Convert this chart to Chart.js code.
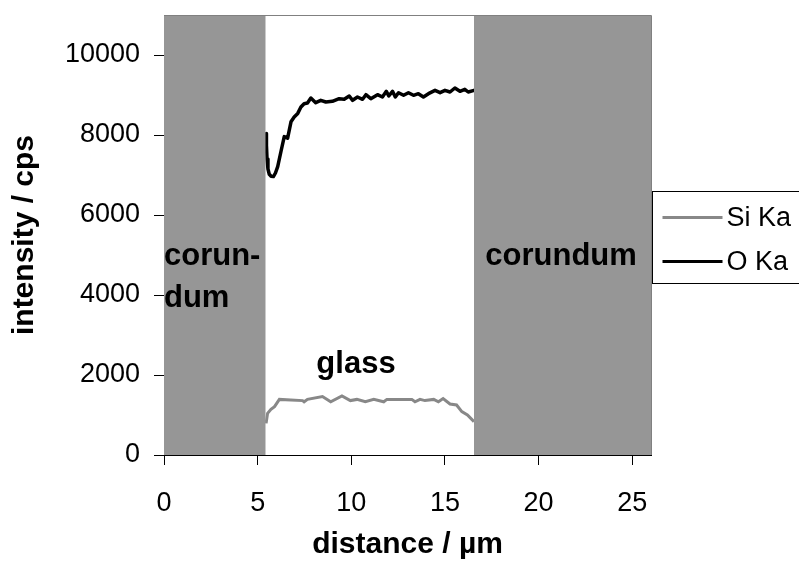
<!DOCTYPE html>
<html>
<head>
<meta charset="utf-8">
<script src="https://cdn.jsdelivr.net/npm/chart.js@4"></script>
<style>
  html, body { margin: 0; padding: 0; background: #fff; }
  #wrap { width: 799px; height: 570px; }
</style>
</head>
<body>
<div id="wrap"><canvas id="lineScan"></canvas></div>
<script>
// distance (µm) and intensity (cps)
const siX = [5.45, 5.53, 5.71, 5.9, 6.16, 7.4, 7.48, 7.66, 8.46, 8.9, 9.5, 9.95, 10.3, 10.75, 11.2, 11.73, 11.9, 13.23, 13.4, 13.67, 13.93, 14.4, 14.65, 14.9, 15.27, 15.62, 15.9, 16.2, 16.55];
const siY = [790, 1040, 1140, 1210, 1390, 1360, 1330, 1390, 1460, 1330, 1475, 1360, 1390, 1330, 1390, 1330, 1390, 1390, 1330, 1390, 1360, 1390, 1330, 1410, 1275, 1250, 1085, 1000, 835];

const oX = [5.45, 5.47, 5.5, 5.55, 5.62, 5.72, 5.84, 5.95, 6.07, 6.25, 6.42, 6.6, 6.78, 6.95, 7.14, 7.31, 7.48, 7.66, 7.84, 8.1, 8.37, 8.64, 8.99, 9.35, 9.62, 9.89, 10.07, 10.33, 10.6, 10.78, 11.04, 11.4, 11.66, 11.87, 12.0, 12.2, 12.35, 12.52, 12.79, 13.05, 13.32, 13.58, 13.85, 14.12, 14.47, 14.74, 15.0, 15.27, 15.53, 15.8, 16.06, 16.24, 16.55, 26];
const oY = [8040, 7750, 7400, 7150, 7020, 6970, 6960, 7050, 7210, 7600, 7960, 7920, 8330, 8450, 8540, 8700, 8783, 8800, 8925, 8808, 8867, 8825, 8842, 8908, 8892, 8975, 8867, 8950, 8892, 9008, 8908, 9008, 8950, 9092, 8975, 9092, 8950, 9058, 8992, 9058, 8992, 9033, 8950, 9033, 9117, 9058, 9117, 9075, 9175, 9092, 9142, 9075, 9117, 8900];

// corundum regions (µm)
const corundumLeft = [0, 5.43];
const corundumRight = [16.55, 26];

const xTicks = [0, 5, 10, 15, 20, 25];
const yTicks = [0, 2000, 4000, 6000, 8000, 10000];
const yMax = 11000;

const FONT = 'Liberation Sans, Arial, sans-serif';

const toPts = (xs, ys) => xs.map((x, i) => ({ x: x, y: ys[i] }));
const band = (r) => r.map(x => ({ x: x, y: yMax }));

// text labels for the regions, placed in data units
const regionLabels = [
  { text: 'corun-', x: 0, y: 4750, align: 'left' },
  { text: 'dum', x: 0, y: 3700, align: 'left' },
  { text: 'corundum', x: 21.2, y: 4750, align: 'center' },
  { text: 'glass', x: 10.25, y: 2050, align: 'center' }
];

const regionText = {
  id: 'regionText',
  afterDatasetsDraw(chart) {
    const ctx = chart.ctx;
    const xs = chart.scales.x, ys = chart.scales.y;
    ctx.save();
    ctx.fillStyle = '#000';
    ctx.font = 'bold 31px ' + FONT;
    ctx.textBaseline = 'alphabetic';
    regionLabels.forEach(l => {
      ctx.textAlign = l.align;
      ctx.fillText(l.text, xs.getPixelForValue(l.x), ys.getPixelForValue(l.y));
    });
    // plot area frame (top/right)
    const a = chart.chartArea;
    ctx.strokeStyle = '#808080';
    ctx.lineWidth = 1;
    ctx.beginPath();
    ctx.moveTo(a.left, a.top + 0.5);
    ctx.lineTo(a.right + 0.5, a.top + 0.5);
    ctx.lineTo(a.right + 0.5, a.bottom);
    ctx.stroke();
    ctx.restore();
  }
};

const boxLegend = {
  id: 'boxLegend',
  afterDraw(chart) {
    const ctx = chart.ctx;
    const items = chart.data.datasets.filter(d => d.inLegend);
    const x0 = chart.chartArea.right + 1.5, y0 = 191.5;
    ctx.save();
    ctx.fillStyle = '#fff';
    ctx.fillRect(x0, y0, 160, 92);
    ctx.strokeStyle = '#000';
    ctx.lineWidth = 1;
    ctx.strokeRect(x0, y0, 160, 92);
    ctx.font = '27px ' + FONT;
    ctx.textBaseline = 'middle';
    ctx.textAlign = 'left';
    items.forEach((d, i) => {
      const y = y0 + 26 + i * 44;
      ctx.strokeStyle = d.borderColor;
      ctx.lineWidth = 3;
      ctx.beginPath();
      ctx.moveTo(x0 + 10, y);
      ctx.lineTo(x0 + 70, y);
      ctx.stroke();
      ctx.fillStyle = '#000';
      ctx.fillText(d.label, x0 + 74, y + 1);
    });
    ctx.restore();
  }
};

const bandStyle = {
  borderWidth: 0,
  pointRadius: 0,
  backgroundColor: '#969696',
  fill: 'origin',
  order: 0
};

const plainNum = v => String(v);

new Chart(document.getElementById('lineScan'), {
  type: 'line',
  data: {
    datasets: [
      Object.assign({ label: 'corundum', data: band(corundumLeft) }, bandStyle),
      Object.assign({ label: 'corundum', data: band(corundumRight) }, bandStyle),
      {
        label: 'Si Ka', inLegend: true, data: toPts(siX, siY),
        borderColor: '#888888', borderWidth: 3, pointRadius: 0, fill: false, order: 1
      },
      {
        label: 'O Ka', inLegend: true, data: toPts(oX, oY),
        borderColor: '#000000', borderWidth: 3.5, pointRadius: 0, fill: false, order: 1,
        borderJoinStyle: 'round'
      }
    ]
  },
  options: {
    responsive: true,
    maintainAspectRatio: false,
    animation: false,
    layout: { padding: { left: 0, top: 0, right: 148, bottom: 0 } },
    plugins: { legend: { display: false }, tooltip: { enabled: false } },
    scales: {
      x: {
        type: 'linear', min: 0, max: 26,
        afterBuildTicks: s => { s.ticks = xTicks.map(v => ({ value: v })); },
        afterFit: s => { s.height = 115; },
        grid: { drawOnChartArea: false, drawTicks: true, tickLength: 10, color: '#000' },
        border: { color: '#000', width: 1 },
        ticks: { color: '#000', padding: 22, callback: plainNum, font: { family: FONT, size: 27 } },
        title: {
          display: true, text: 'distance / µm', color: '#000',
          padding: { top: 0, bottom: 7 },
          font: { family: FONT, size: 30, weight: 'bold' }
        }
      },
      y: {
        type: 'linear', min: 0, max: yMax,
        afterBuildTicks: s => { s.ticks = yTicks.map(v => ({ value: v })); },
        afterFit: s => { s.width = 164; s.paddingTop = 15; },
        grid: { drawOnChartArea: false, drawTicks: true, tickLength: 10, color: '#000' },
        border: { color: '#000', width: 1 },
        ticks: { color: '#000', padding: 14, callback: plainNum, font: { family: FONT, size: 27 } },
        title: {
          display: true, text: 'intensity / cps', color: '#000',
          padding: { top: 7, bottom: 0 },
          font: { family: FONT, size: 30, weight: 'bold' }
        }
      }
    }
  },
  plugins: [regionText, boxLegend]
});
</script>
</body>
</html>
